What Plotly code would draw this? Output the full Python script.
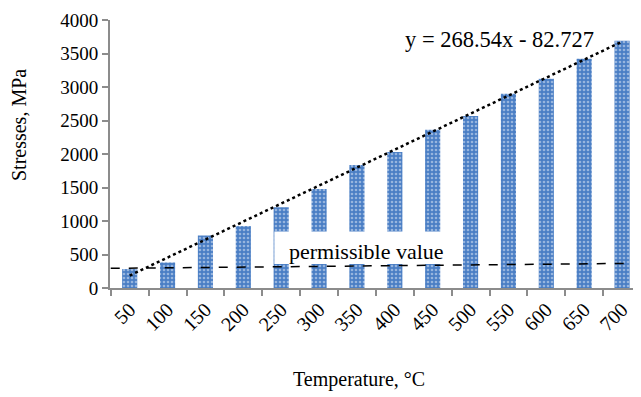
import plotly.graph_objects as go

temperatures = ["50", "100", "150", "200", "250", "300", "350", "400", "450", "500", "550", "600", "650", "700"]
stresses = [283, 381, 782, 924, 1207, 1476, 1834, 2029, 2362, 2568, 2900, 3125, 3423, 3692]
trend_slope = 268.54
trend_intercept = -82.727
permissible_ends = [293, 367]
y_ticks = [0, 500, 1000, 1500, 2000, 2500, 3000, 3500, 4000]

FONT = "Liberation Serif, Times New Roman, serif"
AX = "#8c8c8c"

trend_y = [trend_slope * (i + 1) + trend_intercept for i in range(len(temperatures))]

fig = go.Figure()
fig.add_trace(go.Bar(
    x=temperatures, y=stresses,
    marker=dict(color="#4a7ec4", line=dict(width=0),
                pattern=dict(shape=".", fgcolor="#e4ecf7", size=4, solidity=0.35)),
    showlegend=False,
))
fig.add_trace(go.Scatter(
    x=temperatures, y=trend_y, mode="lines",
    line=dict(color="black", width=2.5, dash="dot"), showlegend=False,
))

fig.update_layout(
    width=633, height=389,
    margin=dict(l=102, r=0, t=12, b=109),
    paper_bgcolor="white", plot_bgcolor="white",
    bargap=0.6,
    font=dict(family=FONT, size=20, color="black"),
    xaxis=dict(
        type="category", showline=True, linecolor=AX, linewidth=2,
        ticks="outside", tickcolor=AX, ticklen=6, tickwidth=1.5,
        tickson="boundaries", tickangle=-45, showgrid=False, automargin=False,
        ticklabeloverflow="allow", tickfont=dict(family=FONT, size=20),
    ),
    yaxis=dict(
        range=[0, 4000], tickvals=y_ticks, showline=True, linecolor=AX, linewidth=2,
        ticks="outside", tickcolor=AX, ticklen=6, tickwidth=1.5, showgrid=False,
        zeroline=False, automargin=False, ticklabeloverflow="allow",
        tickfont=dict(family=FONT, size=19),
    ),
    shapes=[
        dict(type="rect", xref="x", yref="y", x0=3.82, x1=8.42, y0=357, y1=845,
             fillcolor="white", line=dict(width=0), layer="above"),
        dict(type="line", xref="x", yref="y", x0=-0.5, x1=13.15,
             y0=permissible_ends[0], y1=permissible_ends[1],
             line=dict(color="black", width=1.5, dash="dash"), layer="above"),
    ],
    annotations=[
        dict(text="permissible value", xref="paper", yref="paper", x=0.483, y=0.138,
             showarrow=False, xanchor="center", yanchor="middle",
             font=dict(family=FONT, size=22)),
        dict(text="y = 268.54x - 82.727", xref="paper", yref="paper", x=0.734, y=0.926,
             showarrow=False, xanchor="center", yanchor="middle",
             font=dict(family=FONT, size=22.5)),
        dict(text="Stresses, MPa", xref="paper", yref="paper", x=-0.1714, y=0.608,
             showarrow=False, xanchor="center", yanchor="middle", textangle=-90,
             font=dict(family=FONT, size=20)),
        dict(text="Temperature, °C", xref="paper", yref="paper", x=0.469, y=-0.343,
             showarrow=False, xanchor="center", yanchor="middle",
             font=dict(family=FONT, size=20)),
    ],
)

fig.write_html("out.html")
